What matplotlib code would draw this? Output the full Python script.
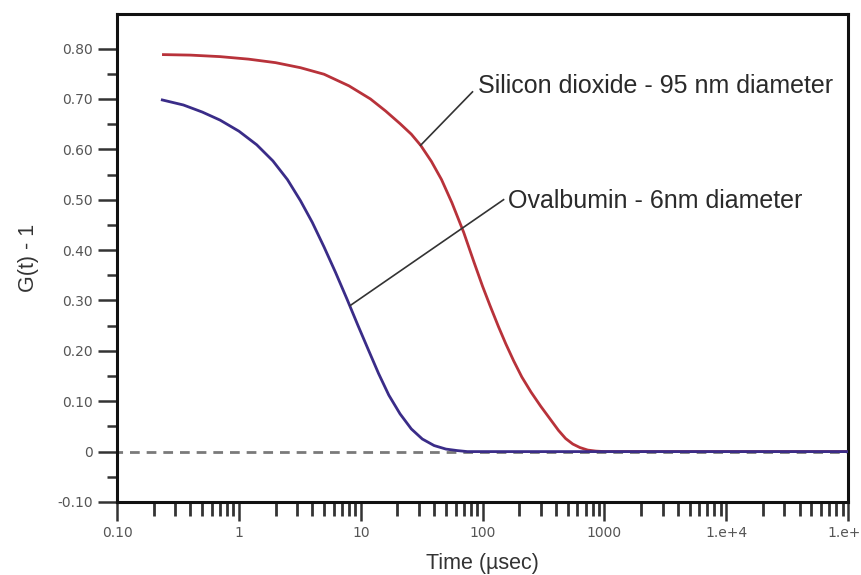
import numpy as np
import matplotlib
matplotlib.use("Agg")
import matplotlib.pyplot as plt
from matplotlib.ticker import FixedLocator, LogLocator, NullFormatter

# values (time in usec, G(t)-1)
silica_t = [0.24, 0.4, 0.7, 1.2, 2.0, 3.2, 5.0, 8.0, 12, 16, 21, 26, 31, 38, 46,
            56, 70, 85, 100, 115, 135, 155, 180, 210, 250, 300, 360, 420, 480,
            550, 630, 730, 850, 1000, 1.0e5]
silica_g = [0.788, 0.787, 0.784, 0.779, 0.772, 0.762, 0.749, 0.726, 0.700, 0.676,
            0.651, 0.630, 0.608, 0.576, 0.540, 0.494, 0.435, 0.376, 0.328, 0.290,
            0.248, 0.214, 0.180, 0.148, 0.118, 0.090, 0.064, 0.042, 0.026, 0.015,
            0.008, 0.003, 0.001, 0.0, 0.0]

ovalb_t = [0.235, 0.35, 0.5, 0.7, 1.0, 1.4, 1.9, 2.5, 3.2, 4.0, 5.0, 6.2, 7.7,
           9.5, 11.5, 14, 17, 21, 26, 32, 40, 50, 62, 75, 1.0e5]
ovalb_g = [0.698, 0.688, 0.674, 0.658, 0.636, 0.609, 0.577, 0.540, 0.498, 0.455,
           0.406, 0.356, 0.303, 0.250, 0.203, 0.155, 0.112, 0.075, 0.045, 0.025,
           0.012, 0.005, 0.002, 0.0, 0.0]

# leader lines: (curve point, text anchor)
silica_leader_t = [31, 82.6]
silica_leader_g = [0.608, 0.714]
ovalb_leader_t = [8.2, 148.6]
ovalb_leader_g = [0.290, 0.500]

xtick_vals = [0.1, 1, 10, 100, 1000, 1e4, 1e5]
xtick_labels = ["0.10", "1", "10", "100", "1000", "1.e+4", "1.e+5"]
ytick_vals = [-0.10, 0, 0.10, 0.20, 0.30, 0.40, 0.50, 0.60, 0.70, 0.80]
ytick_labels = ["-0.10", "0", "0.10", "0.20", "0.30", "0.40", "0.50", "0.60", "0.70", "0.80"]

plt.rcParams['font.family'] = ['Liberation Sans', 'DejaVu Sans']

fig = plt.figure(figsize=(8.61, 5.75), dpi=100)
ax = fig.add_axes([0.136, 0.127, 0.849, 0.849])

ax.axhline(0, color='#7a7a7a', lw=2.0, ls=(1.5, (3.5, 2.5)), zorder=1)
ax.plot(silica_t, silica_g, color='#b8323a', lw=2.0, zorder=2)
ax.plot(ovalb_t, ovalb_g, color='#3a2c88', lw=2.0, zorder=3)

ax.plot(silica_leader_t, silica_leader_g, color='#333333', lw=1.2, zorder=4)
ax.plot(ovalb_leader_t, ovalb_leader_g, color='#333333', lw=1.2, zorder=4)
ax.text(92, 0.712, "Silicon dioxide - 95 nm diameter", fontsize=18,
        color='#2a2a2a', va='baseline', ha='left')
ax.text(163, 0.484, "Ovalbumin - 6nm diameter", fontsize=18,
        color='#2a2a2a', va='baseline', ha='left')

ax.set_xscale('log')
ax.set_xlim(0.1, 1e5)
ax.set_ylim(-0.10, 0.869)

ax.xaxis.set_major_locator(FixedLocator(xtick_vals))
ax.set_xticklabels(xtick_labels)
ax.xaxis.set_minor_locator(LogLocator(base=10, subs=np.arange(2, 10)))
ax.xaxis.set_minor_formatter(NullFormatter())
ax.set_yticks(ytick_vals)
ax.set_yticklabels(ytick_labels)
ax.yaxis.set_minor_locator(FixedLocator(np.arange(-0.05, 0.8, 0.1)))

for s in ax.spines.values():
    s.set_linewidth(2.2)
    s.set_color('#111111')

ax.tick_params(which='major', direction='out', length=14, width=1.8, color='#333333',
               labelsize=10, labelcolor='#555555', pad=3.5)
ax.tick_params(axis='x', which='minor', direction='out', length=10, width=2.0, color='#333333')
ax.tick_params(axis='y', which='minor', direction='out', length=7, width=1.8, color='#333333')
for lab in ax.get_xticklabels() + ax.get_yticklabels():
    lab.set_family('DejaVu Sans')

ax.set_ylabel("G(t) - 1", fontsize=15.5, color='#333333', labelpad=13)
ax.set_xlabel("Time (µsec)", fontsize=15.5, color='#333333', labelpad=9)

fig.savefig("out.png", dpi=100)
